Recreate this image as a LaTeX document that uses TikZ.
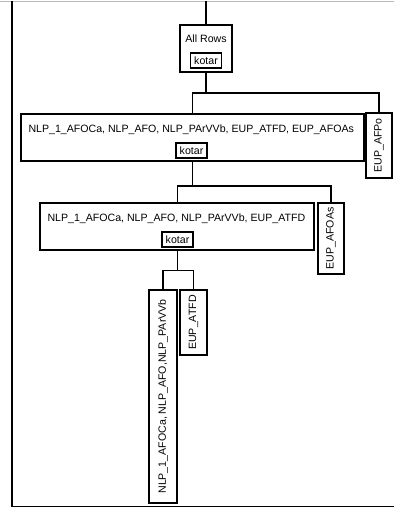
\documentclass[tikz,border=0pt]{standalone}
\usepackage{fontspec}
\setmainfont{Liberation Sans}
\begin{document}
\begin{tikzpicture}[x=1pt, y=-1pt, font=\fontsize{10.6}{12}\selectfont,
        box/.style={draw, line width=1.7pt, inner sep=0pt},
        kbox/.style={draw, line width=1.4pt, inner sep=0pt, minimum width=31pt, minimum height=15pt},
        vbox/.style={draw, line width=1.7pt, inner sep=0pt, minimum width=26pt},
        vtext/.style={rotate=90, inner sep=0pt},
        wire/.style={line width=1.4pt}]
        \useasboundingbox (0,0) rectangle (394,508);

        % frame
        \draw[gray!55, line width=1.5pt] (0,1.5) -- (394,1.5);
        \draw[line width=1.5pt] (12,1.5) -- (12,506.5) -- (394,506.5);

        % Level 0: all rows
        \node[box, minimum width=52pt, minimum height=47pt] (allrows) at (206,48.5) {};
        \node[anchor=base] (allrowsT) at (206,43) {All Rows};
        \node[kbox] (k0) at (206,60.5) {kotar};
        \coordinate (top) at (206,1.5);
        \draw[wire] (top) -- (allrows.north);

        % Level 1: five columns + EUP_AFPo
        \node[box, minimum width=343pt, minimum height=47pt] (row1) at (192.3,137.5) {};
        \node[anchor=base west] (row1T) at (25,132.5) {NLP\_1\_AFOCa, NLP\_AFO, NLP\_PArVVb, EUP\_ATFD, EUP\_AFOAs};
        \node[kbox] (k1) at (191.5,150.5) {kotar};
        \node[vbox, minimum height=65pt] (afpo) at (379,145.5) {};
        \node[vtext] (afpoT) at (379,145.5) {EUP\_AFPo};
        \coordinate (bus1) at (206,93);
        \draw[wire] (allrows.south) -- (bus1);
        \draw[wire] (row1.north) |- (bus1) -| (afpo.north);

        % Level 2: four columns + EUP_AFOAs
        \node[box, minimum width=274pt, minimum height=47pt] (row2) at (177.3,226.5) {};
        \node[anchor=base west] (row2T) at (44,221) {NLP\_1\_AFOCa, NLP\_AFO, NLP\_PArVVb, EUP\_ATFD};
        \node[kbox] (k2) at (177.5,239.5) {kotar};
        \node[vbox, minimum height=71pt] (afoas) at (331,238.5) {};
        \node[vtext] (afoasT) at (331,238.5) {EUP\_AFOAs};
        \coordinate (bus2) at (192.3,186);
        \draw[wire] (row1.south) -- (bus2);
        \draw[wire] (row2.north) |- (bus2) -| (afoas.north);

        % Level 3: leaves
        \node[vbox, minimum width=28pt, minimum height=213pt] (nlp) at (163,396.5) {};
        \node[vtext] (nlpT) at (163,396.5) {NLP\_1\_AFOCa, NLP\_AFO,NLP\_PArVVb};
        \node[vbox, minimum width=27pt, minimum height=65pt] (atfd) at (193.5,322.5) {};
        \node[vtext] (atfdT) at (193.5,322.5) {EUP\_ATFD};
        \coordinate (bus3) at (177.3,270.5);
        \draw[wire] (row2.south) -- (bus3);
        \draw[wire] (nlp.north) |- (bus3) -| (atfd.north);
    \end{tikzpicture}
\end{document}
